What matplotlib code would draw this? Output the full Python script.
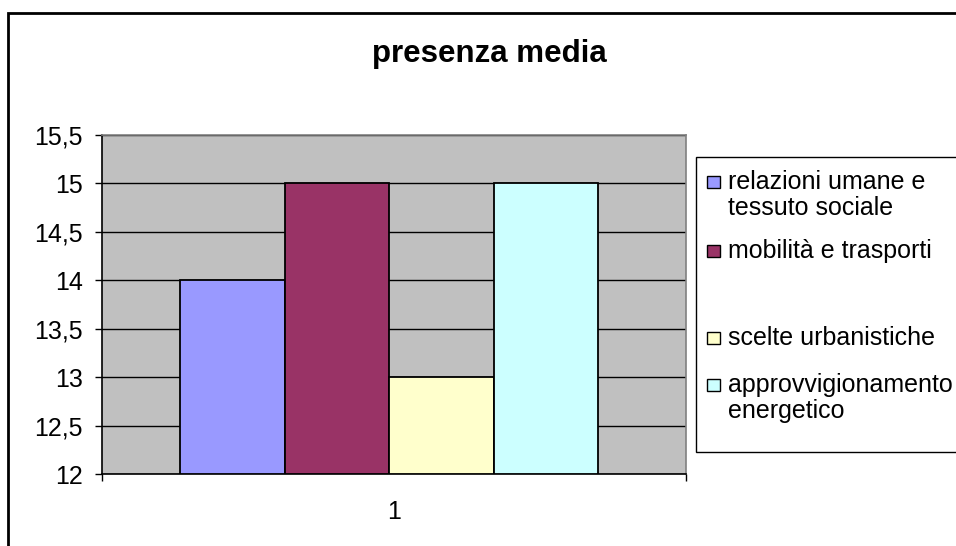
import matplotlib.pyplot as plt
from matplotlib.patches import Rectangle
from matplotlib.ticker import FixedLocator

# data
categories = ['relazioni umane e\ntessuto sociale', 'mobilità e trasporti',
              'scelte urbanistiche', 'approvvigionamento\nenergetico']
values = [14, 15, 13, 15]
colors = ['#9999FF', '#993366', '#FFFFCC', '#CCFFFF']
yticks = [12, 12.5, 13, 13.5, 14, 14.5, 15, 15.5]
ytick_labels = ['12', '12,5', '13', '13,5', '14', '14,5', '15', '15,5']

W, H = 956, 546

plt.rcParams['font.family'] = ['Liberation Sans', 'DejaVu Sans']


def fx(px):
    return px / W


def fy(py):
    return 1 - py / H


def main():
    fig = plt.figure(figsize=(W / 100, H / 100), dpi=100)
    ax = fig.add_axes([fx(102), fy(474), fx(686) - fx(102), fy(135) - fy(474)])
    ax.set_facecolor('#C0C0C0')

    # bars
    width = 0.179
    center = 0.9915
    for i, (v, c) in enumerate(zip(values, colors)):
        x = center + (i - 1.5) * width
        ax.bar(x, v - 12, bottom=12, width=width, color=c, edgecolor='black',
               linewidth=1.3, zorder=3)

    ax.set_xlim(0.5, 1.5)
    ax.set_ylim(12, 15.5)
    ax.set_yticks(yticks)
    ax.set_yticklabels(ytick_labels)
    ax.yaxis.grid(True, color='black', linewidth=1.0, zorder=1)
    ax.set_axisbelow(True)

    ax.set_xticks([1])
    ax.set_xticklabels(['1'])
    ax.xaxis.set_minor_locator(FixedLocator([0.5, 1.5]))
    ax.tick_params(axis='x', which='major', length=0, pad=19, labelsize=18)
    ax.tick_params(axis='x', which='minor', length=5, width=1, direction='out')
    ax.tick_params(axis='y', length=5, width=1, direction='out', pad=9, labelsize=18)

    for s in ['top', 'right']:
        ax.spines[s].set_color('#808080')
        ax.spines[s].set_linewidth(1.2)
    for s in ['left', 'bottom']:
        ax.spines[s].set_color('black')
        ax.spines[s].set_linewidth(1.2)

    # title
    fig.text(fx(489), fy(54), 'presenza media', ha='center', va='center',
             fontsize=22.5, fontweight='bold')

    # outer border
    fig.patches.append(Rectangle((fx(8), fy(560)), fx(970) - fx(8), fy(13) - fy(560),
                                 transform=fig.transFigure, fill=False,
                                 edgecolor='black', linewidth=2, clip_on=False))

    # legend box
    fig.patches.append(Rectangle((fx(696), fy(452)), fx(970) - fx(696), fy(157) - fy(452),
                                 transform=fig.transFigure, facecolor='white',
                                 edgecolor='black', linewidth=1, clip_on=False))
    marker_y = [182, 251, 338, 385]
    for lab, c, my in zip(categories, colors, marker_y):
        fig.patches.append(Rectangle((fx(707), fy(my + 6)), fx(720) - fx(707),
                                     fy(my - 6) - fy(my + 6),
                                     transform=fig.transFigure, facecolor=c,
                                     edgecolor='black', linewidth=1))
        lines = lab.split('\n')
        for k, line in enumerate(lines):
            fig.text(fx(728), fy(my + k * 26), line, ha='left', va='center',
                     fontsize=18)

    fig.savefig('out.png', dpi=100)


if __name__ == '__main__':
    main()
